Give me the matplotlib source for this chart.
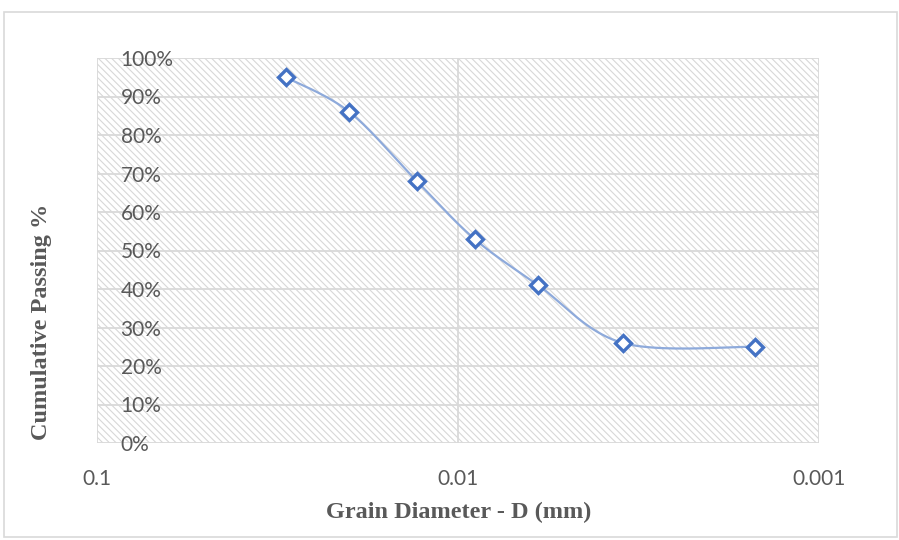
# libraries
import numpy as np
import matplotlib
matplotlib.use('Agg')
import matplotlib.pyplot as plt
from matplotlib.patches import Rectangle

# data
diameters = [0.030, 0.020, 0.013, 0.009, 0.006, 0.0035, 0.0015]
passing = [95, 86, 68, 53, 41, 26, 25]
y_ticks = [0, 10, 20, 30, 40, 50, 60, 70, 80, 90, 100]
x_ticks = [0.1, 0.01, 0.001]
x_tick_labels = ['0.1', '0.01', '0.001']

grey = '#595959'
grid_grey = '#d9d9d9'

plt.rcParams['hatch.linewidth'] = 0.8


def smooth_curve(xs, ys, steps=40):
    """bezier smoothing through the points, done in log-x space"""
    pts = np.column_stack([np.log10(xs), ys])
    padded = np.vstack([pts[0], pts, pts[-1]])
    out = []
    for i in range(len(pts) - 1):
        p0, p1, p2, p3 = padded[i], padded[i + 1], padded[i + 2], padded[i + 3]
        c1 = p1 + (p2 - p0) / 6
        c2 = p2 - (p3 - p1) / 6
        t = np.linspace(0, 1, steps)[:, None]
        seg = ((1 - t) ** 3 * p1 + 3 * (1 - t) ** 2 * t * c1
               + 3 * (1 - t) * t ** 2 * c2 + t ** 3 * p2)
        out.append(seg)
    curve = np.vstack(out)
    return 10 ** curve[:, 0], curve[:, 1]


fig = plt.figure(figsize=(8.99, 5.40), dpi=100)
ax = fig.add_axes([97 / 899, 1 - 443 / 540, (819 - 97) / 899, (443 - 58) / 540])

ax.set_xscale('log')
ax.set_xlim(0.1, 0.001)
ax.set_ylim(0, 100)

# hatched plot area
ax.add_patch(Rectangle((0, 0), 1, 1, transform=ax.transAxes, facecolor='white',
                       edgecolor='#d8d8d8', linewidth=0, hatch='\\' * 5, zorder=0))

# grid
for v in y_ticks:
    ax.axhline(v, color=grid_grey, lw=1.3, zorder=1)
for v in x_ticks:
    ax.axvline(v, color=grid_grey, lw=1.3, zorder=1)
for s in ax.spines.values():
    s.set_visible(False)

# smoothed line + diamond markers
cx, cy = smooth_curve(diameters, passing)
ax.plot(cx, cy, color='#8eaadb', lw=1.6, zorder=3)
ax.plot(diameters, passing, linestyle='none', marker='D', markersize=8,
        markerfacecolor='white', markeredgecolor='#4472c4', markeredgewidth=2.4,
        zorder=4)

# ticks
ax.set_yticks(y_ticks)
ax.set_yticklabels(['%d%%' % v for v in y_ticks], fontfamily='Lato',
                   fontsize=15, color=grey, ha='left')
ax.tick_params(axis='y', length=0, pad=-17)
ax.set_xticks(x_ticks)
ax.set_xticklabels(x_tick_labels, fontfamily='Lato', fontsize=15, color=grey)
ax.minorticks_off()
ax.tick_params(axis='x', length=0, pad=19)

# axis titles
fig.text(42 / 899, 1 - 322 / 540, 'Cumulative Passing %', rotation=90,
         ha='center', va='center', fontfamily='Liberation Serif',
         fontweight='bold', fontsize=17.5, color=grey)
fig.text(459 / 899, 1 - 512 / 540, 'Grain Diameter - D (mm)',
         ha='center', va='center', fontfamily='Liberation Serif',
         fontweight='bold', fontsize=17.5, color=grey)

# chart border
fig.patches.append(Rectangle((4 / 899, 1 - 537 / 540), 893 / 899, 525 / 540,
                             transform=fig.transFigure, fill=False,
                             edgecolor=grid_grey, lw=1.2))

fig.savefig('out.png', dpi=100)
